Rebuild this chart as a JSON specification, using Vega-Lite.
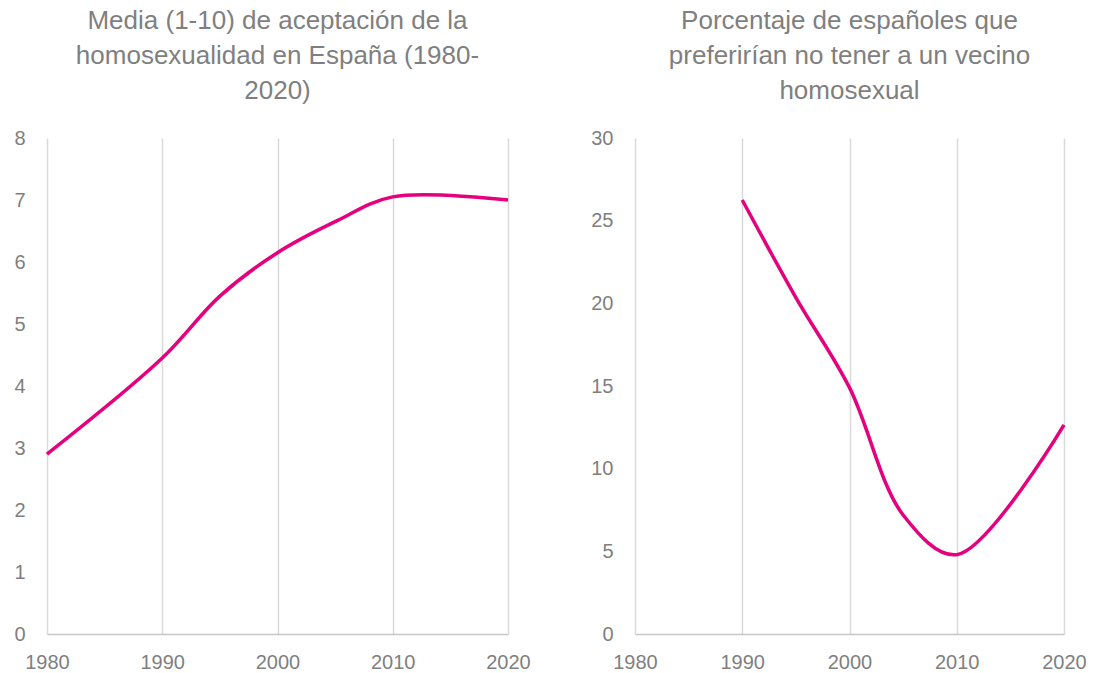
{
  "$schema": "https://vega.github.io/schema/vega-lite/v6.json",
  "background": "white",
  "padding": {"left": 13, "top": 8, "right": 5, "bottom": 0},
  "spacing": 59,
  "config": {
    "font": "Liberation Sans",
    "view": {"stroke": null},
    "axis": {
      "labelFont": "Liberation Sans",
      "labelFontSize": 20,
      "labelColor": "#7f7f7f",
      "labelFlush": false,
      "ticks": false,
      "title": null,
      "gridColor": "#d9d9d9",
      "gridWidth": 1.5,
      "domainColor": "#c8c8c8",
      "domainWidth": 1.5
    },
    "axisX": {"grid": true, "domain": true, "labelPadding": 18},
    "axisY": {"grid": false, "domain": false, "labelPadding": 22},
    "title": {
      "font": "Liberation Sans",
      "fontSize": 26,
      "fontWeight": "normal",
      "color": "#7f7f7f",
      "lineHeight": 35,
      "anchor": "middle",
      "offset": 24
    }
  },
  "hconcat": [
    {
      "width": 461,
      "height": 496,
      "title": {"text": ["Media (1-10) de aceptación de la", "homosexualidad en España (1980-", "2020)"]},
      "data": {"values": [
        {"year": 1980, "value": 2.9},
        {"year": 1990, "value": 4.45},
        {"year": 1995, "value": 5.45},
        {"year": 2000, "value": 6.15},
        {"year": 2005, "value": 6.65},
        {"year": 2010, "value": 7.05},
        {"year": 2020, "value": 7.0}
      ]},
      "mark": {"type": "line", "interpolate": "catmull-rom", "color": "#E6007E", "strokeWidth": 3.5},
      "encoding": {
        "x": {"field": "year", "type": "quantitative", "scale": {"domain": [1980, 2020], "nice": false, "zero": false},
              "axis": {"values": [1980, 1990, 2000, 2010, 2020], "format": "d"}},
        "y": {"field": "value", "type": "quantitative", "scale": {"domain": [0, 8], "nice": false},
              "axis": {"values": [0, 1, 2, 3, 4, 5, 6, 7, 8]}}
      }
    },
    {
      "width": 429,
      "height": 496,
      "title": {"text": ["Porcentaje de españoles que", "preferirían no tener a un vecino", "homosexual"]},
      "data": {"values": [
        {"year": 1990, "value": 26.25},
        {"year": 1995, "value": 20.35},
        {"year": 2000, "value": 14.9},
        {"year": 2005, "value": 7.2},
        {"year": 2010, "value": 4.8},
        {"year": 2020, "value": 12.65}
      ]},
      "mark": {"type": "line", "interpolate": "catmull-rom", "color": "#E6007E", "strokeWidth": 3.5},
      "encoding": {
        "x": {"field": "year", "type": "quantitative", "scale": {"domain": [1980, 2020], "nice": false, "zero": false},
              "axis": {"values": [1980, 1990, 2000, 2010, 2020], "format": "d"}},
        "y": {"field": "value", "type": "quantitative", "scale": {"domain": [0, 30], "nice": false},
              "axis": {"values": [0, 5, 10, 15, 20, 25, 30]}}
      }
    }
  ]
}
